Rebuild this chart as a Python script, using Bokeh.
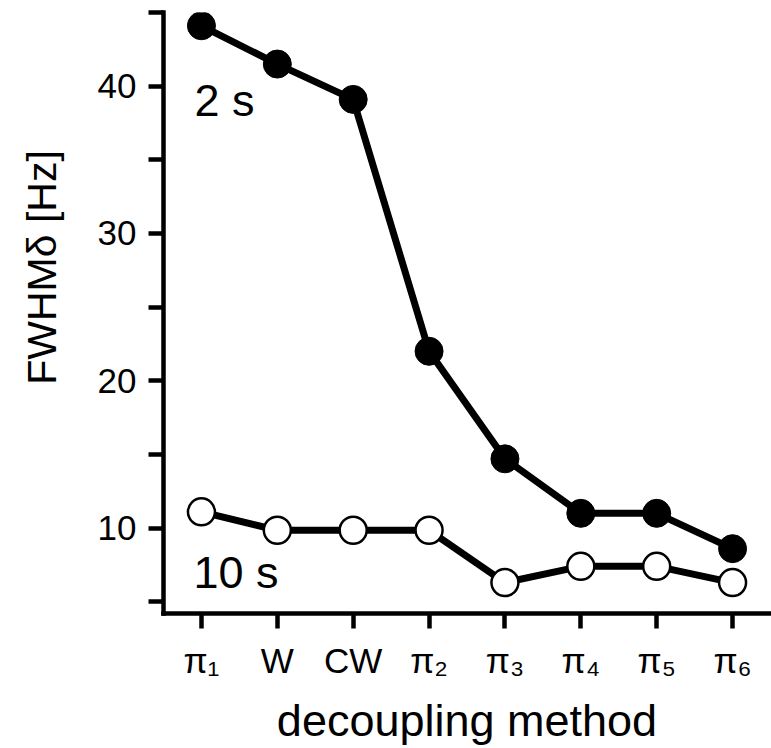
from bokeh.plotting import figure
from bokeh.models import Range1d, FixedTicker, FactorRange
from bokeh.embed import file_html
from bokeh.resources import INLINE
from bokeh.core.properties import value

methods = ["π₁", "W", "CW", "π₂", "π₃", "π₄", "π₅", "π₆"]
fwhm_2s = [44.1, 41.5, 39.1, 22.0, 14.7, 11.0, 11.0, 8.6]
fwhm_10s = [11.1, 9.85, 9.85, 9.85, 6.3, 7.4, 7.4, 6.3]
y_major = [10, 20, 30, 40]
y_minor = [5, 15, 25, 35, 45]

FONT = "Liberation Sans"

p = figure(width=771, height=748, x_range=FactorRange(*methods),
           y_range=Range1d(4.2, 45), output_backend="svg",
           toolbar_location=None, min_border_left=163, min_border_right=1,
           min_border_top=12, min_border_bottom=134)
p.outline_line_color = None
p.xgrid.visible = False
p.ygrid.visible = False
p.background_fill_color = "white"
p.border_fill_color = "white"

for ax in (p.xaxis, p.yaxis):
    ax.axis_line_width = 4.5
    ax.axis_line_color = "black"
    ax.axis_line_cap = "square"
    ax.major_tick_line_width = 4.5
    ax.major_tick_line_color = "black"
    ax.minor_tick_line_width = 4.5
    ax.minor_tick_line_color = "black"
    ax.major_tick_in = 0
    ax.major_tick_out = 15
    ax.minor_tick_in = 0
    ax.minor_tick_out = 15
    ax.major_label_text_font = FONT
    ax.major_label_text_color = "black"
    ax.axis_label_text_font = FONT
    ax.axis_label_text_font_style = "normal"
    ax.axis_label_text_color = "black"

p.yaxis.ticker = FixedTicker(ticks=y_major, minor_ticks=y_minor)
p.yaxis.major_label_text_font_size = "35px"
p.yaxis.major_label_standoff = 12
p.yaxis.axis_label = "\u00a0" * 8 + "FWHMδ [Hz]"
p.yaxis.axis_label_text_font_size = "41px"
p.yaxis.axis_label_standoff = 30

p.xaxis.major_label_text_font_size = "35px"
p.xaxis.major_label_standoff = 12
p.xaxis.axis_label = "decoupling method"
p.xaxis.axis_label_text_font_size = "45px"
p.xaxis.axis_label_standoff = 12

# 10 s series (open circles)
p.line(methods, fwhm_10s, line_color="black", line_width=7)
p.scatter(methods, fwhm_10s, size=27, fill_color="white", line_color="black",
          line_width=2.5)

# 2 s series (filled circles)
p.line(methods, fwhm_2s, line_color="black", line_width=7)
p.scatter(methods, fwhm_2s, size=28, fill_color="black", line_color="black")

p.text(x=[methods[0]], y=[39.0], text=["2 s"], x_offset=-7,
       text_font=value(FONT), text_font_size="45px", text_color="black",
       text_baseline="alphabetic", text_align="left")
p.text(x=[methods[0]], y=[6.95], text=["10 s"], x_offset=-8,
       text_font=value(FONT), text_font_size="45px", text_color="black",
       text_baseline="alphabetic", text_align="left")

open("out.html", "w").write(file_html(p, INLINE))
